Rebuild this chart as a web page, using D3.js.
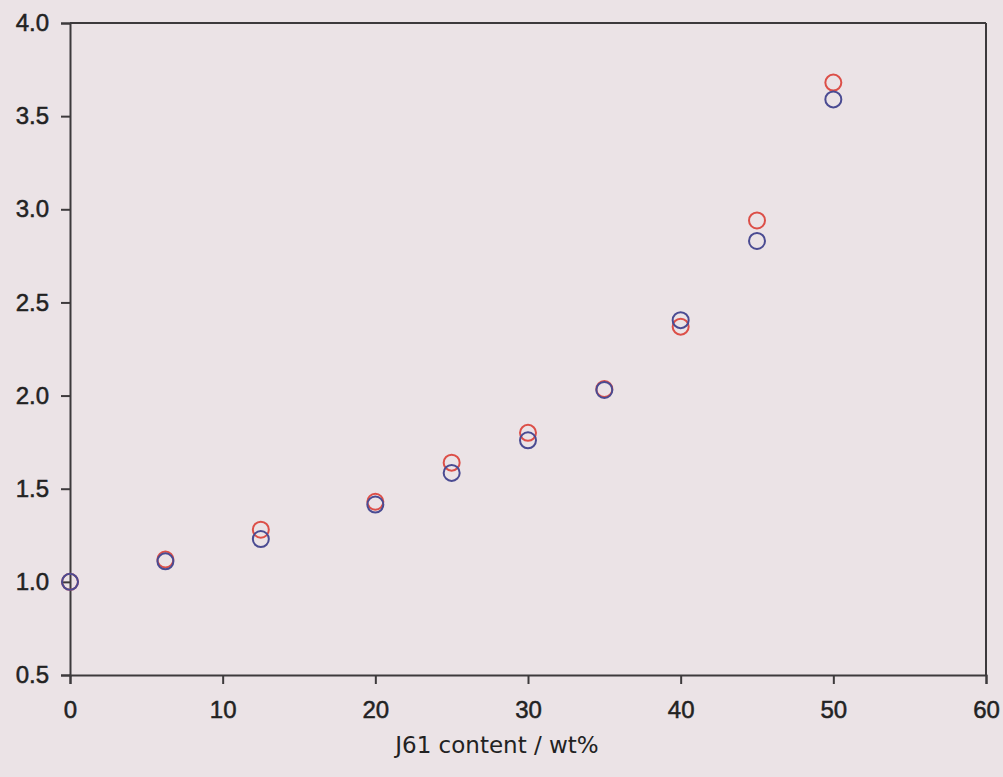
<!DOCTYPE html>
<html>
<head>
<meta charset="utf-8">
<script src="https://cdn.jsdelivr.net/npm/d3@7"></script>
<style>
  html, body { margin: 0; padding: 0; background: #ebe3e6; }
  svg { display: block; }
</style>
</head>
<body>
<div id="chart"></div>
<script>
// J61 content (wt%) and the two measured series
var content = [0, 6.25, 12.5, 20, 25, 30, 35, 40, 45, 50];
var redSeries = [1.0, 1.12, 1.28, 1.43, 1.64, 1.80, 2.035, 2.37, 2.94, 3.68];
var blueSeries = [1.0, 1.11, 1.23, 1.415, 1.585, 1.76, 2.03, 2.405, 2.83, 3.59];
var xTicks = [0, 10, 20, 30, 40, 50, 60];
var yTicks = [0.5, 1.0, 1.5, 2.0, 2.5, 3.0, 3.5, 4.0];

var width = 1003, height = 777;
var margin = {top: 23, right: 17, bottom: 102, left: 70};

var svg = d3.select("#chart")
    .append("svg")
    .attr("width", width)
    .attr("height", height);

var x = d3.scaleLinear()
    .domain([0, 60])
    .range([margin.left, width - margin.right]);

var y = d3.scaleLinear()
    .domain([0.5, 4.0])
    .range([height - margin.bottom, margin.top]);

var axisColor = "#3d3a3c";

// frame: top and right plain lines
svg.append("line")
    .attr("x1", x(0)).attr("x2", x(60))
    .attr("y1", y(4.0)).attr("y2", y(4.0))
    .attr("stroke", axisColor).attr("stroke-width", 2);
svg.append("line")
    .attr("x1", x(60)).attr("x2", x(60))
    .attr("y1", y(4.0)).attr("y2", y(0.5))
    .attr("stroke", axisColor).attr("stroke-width", 2);

// bottom axis
var xAxis = svg.append("g")
    .attr("transform", "translate(0," + y(0.5) + ")")
    .call(d3.axisBottom(x).tickValues(xTicks).tickFormat(d3.format("d")).tickSize(9).tickPadding(17));

// left axis
var yAxis = svg.append("g")
    .attr("transform", "translate(" + x(0) + ",0)")
    .call(d3.axisLeft(y).tickValues(yTicks).tickFormat(d3.format(".1f")).tickSize(9).tickPadding(12));

[xAxis, yAxis].forEach(function(g) {
  g.select(".domain").attr("stroke", axisColor).attr("stroke-width", 2);
  g.selectAll(".tick line").attr("stroke", axisColor).attr("stroke-width", 2);
  g.selectAll(".tick text")
      .attr("fill", "#222")
      .attr("stroke", "#222")
      .attr("stroke-width", 0.5)
      .style("font-family", "'Liberation Sans', Arial, sans-serif")
      .style("font-size", "24px");
});

// axis title
svg.append("text")
    .attr("x", 497)
    .attr("y", 753)
    .attr("text-anchor", "middle")
    .attr("fill", "#222")
    .style("font-family", "'DejaVu Sans', Verdana, sans-serif")
    .style("font-size", "23px")
    .text("J61 content / wt%");

// markers: red first, blue drawn on top
function drawSeries(values, color) {
  svg.append("g")
    .selectAll("circle")
    .data(values)
    .enter()
    .append("circle")
    .attr("cx", function(d, i) { return x(content[i]); })
    .attr("cy", function(d) { return y(d); })
    .attr("r", 8)
    .attr("fill", "none")
    .attr("stroke", color)
    .attr("stroke-width", 2);
}
drawSeries(redSeries, "#dc4f48");
drawSeries(blueSeries, "#4a4b92");
</script>
</body>
</html>
